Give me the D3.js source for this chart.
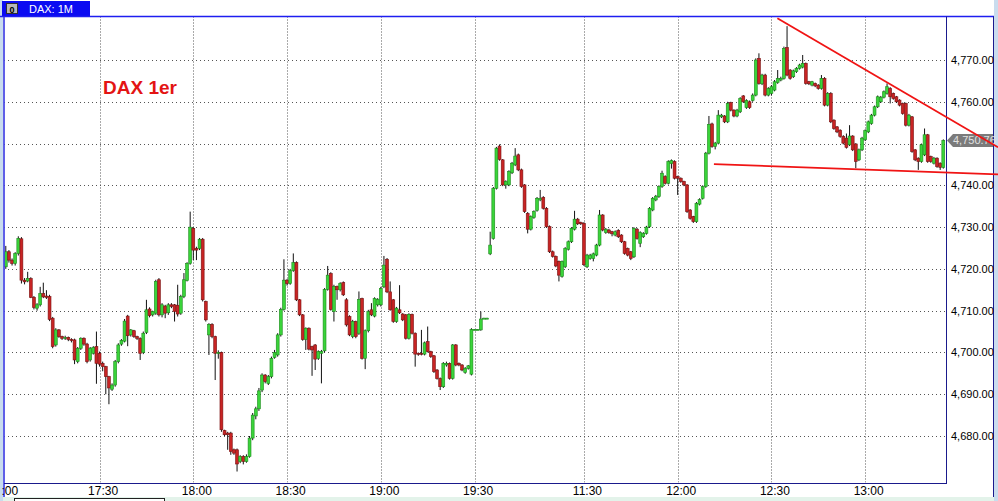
<!DOCTYPE html>
<html>
<head>
<meta charset="utf-8">
<script src="https://cdn.jsdelivr.net/npm/d3@7"></script>
<style>
  body { margin: 0; background: #fff; overflow: hidden; }
  svg { display: block; }
</style>
</head>
<body>
<div id="chart"></div>
<script>
// DAX 1 minute candles (index = minute bar)
const opens = [
  4720.5,4724.1,4722.1,4721.3,4723.7,4727.2,4717.3,4717.1,4717.7,4713.2,
  4710.6,4711.4,4714.1,4713.5,4713.4,4708.2,4701.8,4705.4,4703.8,4703.4,
  4703.6,4703.1,4703,4697.8,4701,4703.4,4702,4698.2,4699.8,4701.4,
  4699.8,4697.4,4696.6,4694.2,4691.2,4692.2,4697.8,4702,4702.7,4708.7,
  4704.2,4705.2,4703.8,4703.4,4700,4704.8,4710.4,4709,4709.4,4717.4,
  4709,4711.1,4709.5,4711.4,4711.4,4711.3,4709.4,4713.4,4717.2,4721.3,
  4729.7,4724.9,4724.9,4727.1,4712.2,4704.2,4706.7,4703.8,4699.8,4700,
  4681.3,4680.7,4680.7,4676.7,4676.7,4673.9,4675.1,4673.9,4675.1,4679.5,
  4684.8,4686.5,4691,4694.6,4692.6,4694.2,4698.8,4699.4,4704.2,4710.3,
  4717.3,4716.5,4719.6,4721.5,4712.6,4709,4703.1,4705.8,4701.4,4701.8,
  4698.6,4699.8,4700.4,4715.1,4718.9,4709.8,4715.8,4715,4716.7,4712.6,
  4708.6,4703.8,4707.4,4704.6,4712.9,4698.6,4705.2,4710.2,4708.7,4711.4,
  4711.4,4715.7,4722.3,4714.5,4712.6,4707.4,4710.2,4709.2,4709,4703.4,
  4709.1,4704.6,4699.8,4699.8,4699.6,4702.6,4700.2,4699.2,4695.8,4693.8,
  4691.8,4697,4697.4,4693.8,4701.8,4697.4,4697,4695.2,4696.2,4694.8,
  4705.5,4705.5,4705.4,4708.2,4708.2,4723.6,4727.3,4739.3,4749.4,4746.1,
  4740.1,4740.1,4743,4744.9,4747.3,4743.7,4740.1,4733.3,4729.5,4732.3,
  4734,4736.5,4737.1,4734.5,4730.1,4724.1,4723,4721.8,4718.2,4720.5,
  4724.7,4726.5,4729.5,4731.9,4731.1,4730.9,4720.5,4722.5,4722.5,4723.3,
  4725.7,4732.9,4728.7,4729.3,4728.9,4728.1,4729.2,4728.1,4726.5,4724.9,
  4724.1,4722.9,4729.5,4726.1,4727.7,4728.5,4730.1,4734.1,4736.5,4737.3,
  4739.7,4742.1,4740.5,4745.2,4745.7,4742.1,4741.7,4740.9,4740.1,4734.1,
  4732.5,4731.3,4735.5,4736.9,4739.7,4747.7,4754.7,4749.3,4750.1,4756.4,
  4756.6,4755.2,4759.8,4758,4756.6,4757.6,4761.4,4758.6,4760,4760.3,
  4761.6,4770.4,4764.3,4766.4,4761.6,4762,4762.8,4764.6,4765.2,4765.6,
  4773,4767.6,4766,4767.2,4768,4768.3,4769.2,4764.8,4764,4764.4,
  4764,4763.2,4765.6,4759.2,4762,4755.6,4754,4753.2,4751.7,4751.3,
  4749.7,4751.8,4749.9,4746.1,4748.5,4750.9,4752.8,4754.8,4756.8,4758.8,
  4760,4761.1,4762,4763.2,4762,4761.2,4760.4,4759.6,4759.6,4754.4,
  4756.4,4748.5,4746.5,4745.7,4747.3,4752.1,4746.9,4745.3,4746.5,4745.3,
  4744.3
];
const highs = [
  4725.5,4724.5,4722.5,4724,4727.8,4727.6,4717.8,4719.3,4718,4713.5,
  4711.8,4715.7,4716.7,4714.9,4713.8,4708.5,4705.8,4705.6,4704,4704,
  4703.8,4703.4,4703.3,4701.3,4703.6,4703.6,4702.3,4701.3,4701.5,4705,
  4700.2,4697.8,4696.8,4694.4,4692.6,4698.2,4702.2,4703.2,4708,4709,
  4705.6,4705.4,4704,4703.6,4705,4712.6,4710.8,4710,4717.4,4717.8,
  4711.8,4711.4,4711.8,4711.8,4711.6,4716.2,4713.8,4719,4721.6,4733.7,
  4730,4725.3,4727.4,4727.4,4712.4,4707,4707,4704,4700.5,4700.2,
  4681.5,4681,4681,4677,4677,4675.4,4675.4,4675.6,4680,4685.5,
  4687,4691.5,4695,4694.8,4694.6,4699,4700.6,4704.6,4710.7,4722.3,
  4717.6,4720,4723.7,4721.8,4712.8,4709.2,4706,4706,4701.6,4702,
  4700.5,4700.6,4715.4,4720.7,4719.2,4716.2,4716,4716.8,4717,4713,
  4708.9,4707.8,4707.6,4714.6,4713.1,4705.5,4710.2,4711.8,4713.2,4713,
  4715.7,4723.1,4722.6,4717,4712.8,4710.9,4716.1,4709.4,4709.2,4709.4,
  4709.3,4704.8,4700,4705.4,4702.6,4706.2,4700.4,4699.4,4696,4694,
  4697.7,4697.8,4697.6,4702,4702,4697.6,4697.2,4696.5,4697,4705.8,
  4705.6,4705.6,4709.8,4708.3,4708.3,4728.9,4739.6,4749.2,4749.8,4746.3,
  4741.2,4743.6,4745.6,4748.9,4747.6,4744,4740.3,4733.6,4732.8,4734,
  4737.2,4738.9,4737.4,4734.8,4730.4,4724.4,4723.2,4722,4722,4725.2,
  4726.8,4730,4733.9,4732.2,4731.3,4731.2,4723.6,4723.6,4723.9,4726,
  4734.1,4733.1,4729.8,4729.6,4729.1,4729.2,4729.5,4728.3,4726.7,4725.1,
  4724.3,4730,4729.8,4729,4728.8,4730.3,4734.8,4737.2,4737.7,4740,
  4743.5,4742.4,4746,4746.2,4746,4742.3,4741.9,4741.1,4740.3,4734.3,
  4732.7,4736,4736.9,4740,4748,4756.6,4755,4750.4,4758,4757.1,
  4756.8,4760,4760,4758.2,4758.3,4761.1,4761.6,4760.6,4760.3,4762,
  4770.4,4771.6,4766.7,4766.7,4763.5,4764,4765.2,4767.6,4766,4773.2,
  4778.1,4767.8,4767.7,4768.3,4769.1,4771.2,4769.4,4765,4765,4764.6,
  4764.2,4766.4,4765.9,4762.3,4762.3,4755.8,4754.2,4753.4,4752,4752.4,
  4754.4,4752,4750.1,4748.8,4751.6,4753.4,4755.5,4757.1,4759.1,4761.5,
  4761.4,4762.7,4764.4,4763.5,4762.2,4761.4,4760.6,4759.8,4759.8,4757.1,
  4756.6,4748.7,4746.7,4750,4753.6,4752.3,4747.1,4746.8,4746.7,4745.5,
  4751
];
const lows = [
  4720,4721.5,4720.8,4720.8,4723.2,4716.5,4716.3,4716.8,4713,4710.3,
  4710,4711,4713,4712.8,4707.5,4701,4701.4,4703.5,4703,4703,
  4702.7,4702.4,4697.2,4697.4,4700.6,4701.6,4697.4,4697.8,4699.5,4692.5,
  4696.6,4695.5,4690,4687.6,4690.8,4691.8,4697.4,4701.6,4702.4,4701.5,
  4703.8,4703.5,4703,4698.2,4699.6,4704.4,4708.4,4708.6,4709,4708.6,
  4708.4,4708.2,4709,4710.6,4707.4,4708.6,4709,4713,4717,4721,
  4722.1,4722.1,4724.5,4712.2,4707.4,4699.4,4703.4,4693.4,4698.5,4681,
  4680,4676.7,4675.5,4675.5,4671.5,4673.5,4673.2,4673.6,4674.8,4679,
  4684,4686,4690.5,4692.6,4692.2,4693.8,4698.5,4699,4703.8,4710,
  4716,4716.2,4719.3,4712.3,4708.7,4702.8,4700.6,4700.5,4694.4,4695.8,
  4698.2,4692.6,4700,4714.8,4710,4707.4,4712.6,4714.6,4713.5,4706.2,
  4703.9,4703.4,4703.4,4704.2,4698.3,4696,4704.8,4708.7,4708.4,4711,
  4711,4715.4,4714.2,4710,4707.1,4707.1,4709.2,4707.5,4703.1,4703.1,
  4704.3,4696.6,4699.2,4699.3,4699.3,4700,4698.7,4695.1,4693.5,4691,
  4691.5,4696.6,4693.5,4693.5,4696.7,4696.7,4695.5,4694.9,4695.9,4694.5,
  4705.4,4705.4,4705.2,4708.1,4708.1,4723.3,4727,4739,4745.9,4739.8,
  4739.2,4739.8,4742.7,4744.6,4743.4,4739.4,4733.4,4728.5,4729.2,4732,
  4733.7,4736.2,4734.2,4729.8,4723.8,4722.7,4720.4,4717,4717.9,4720.2,
  4724.4,4726.2,4729.2,4730.5,4730.5,4720.7,4720.2,4722.2,4721.8,4723,
  4725.4,4729,4728.4,4728.4,4727.8,4727.8,4727.4,4726.2,4723.4,4723,
  4722.1,4722.6,4727,4725.2,4727.4,4728.2,4729.8,4733.8,4736.2,4737,
  4739.4,4740.2,4740.2,4744,4741.4,4737.7,4740.6,4739.8,4733.4,4731.8,
  4731,4731,4735.2,4736.6,4739.4,4747.4,4749,4748.6,4749.8,4756.1,
  4754.9,4754.9,4757.7,4756.3,4756.3,4757.3,4759.7,4758.3,4758.3,4760,
  4761.3,4764.1,4764,4761.3,4761.3,4761.5,4762.5,4764.3,4764.9,4765.3,
  4766.1,4765.3,4765.7,4766.9,4767.7,4768,4764.1,4764,4763.7,4763.5,
  4762.9,4762.9,4758.9,4758.9,4754.9,4753.3,4752.5,4751.4,4749.8,4748.8,
  4749.4,4748.2,4744.1,4745.8,4748.2,4750.6,4752.5,4754.5,4756.5,4758.5,
  4759.7,4760.8,4761.7,4759.6,4760.5,4759.7,4758.9,4756.9,4754.1,4754.1,
  4747.8,4745.8,4743.7,4745.4,4747,4745.4,4745.4,4745,4744.2,4743.7,
  4744
];
const closes = [
  4724.1,4722.1,4721.3,4723.7,4727.3,4717.3,4716.9,4717.7,4713.2,4710.8,
  4711.4,4714.1,4713.3,4713.2,4707.9,4701.4,4705.4,4703.8,4703.4,4703.6,
  4703.1,4703,4698.2,4701,4703.4,4702,4697.8,4701,4701.2,4697.4,
  4697.2,4696.6,4694.2,4691.5,4692.2,4697.8,4701.8,4702.9,4707.5,4704,
  4705.4,4703.8,4703.4,4699.8,4704.6,4710.2,4708.8,4709.8,4717,4709,
  4711.4,4709.4,4711.4,4711,4709.8,4709.2,4713.4,4717.4,4721.3,4730,
  4724.5,4724.5,4727.1,4712.6,4707.8,4706.7,4703.8,4699.8,4700,4681.5,
  4680.3,4680.3,4676.3,4675.9,4673.3,4675.1,4673.9,4675.1,4679.5,4685,
  4686.5,4690.8,4694.6,4693,4694.2,4698.6,4700,4704.2,4710.3,4717.3,
  4716.5,4719.6,4721.5,4712.6,4709,4703.1,4705.8,4700.8,4700.6,4698.4,
  4700.2,4700.2,4715.1,4718.5,4710.3,4715.8,4715,4716.5,4713.8,4706.6,
  4704.2,4707.4,4703.8,4712.7,4698.6,4705.2,4709.8,4709,4712.9,4712.7,
  4715.3,4720.9,4714.5,4710.2,4707.4,4710.6,4709.5,4707.8,4703.4,4709.1,
  4704.6,4699.6,4699.6,4699.6,4702.3,4700.2,4699,4695.4,4693.8,4691.8,
  4697.4,4697.4,4693.8,4701.8,4697,4697,4695.8,4696.2,4696.8,4705.5,
  4705.5,4705.5,4708,4708.2,4708.2,4725.7,4739.3,4748.9,4746.2,4740.1,
  4740.9,4743.3,4745.3,4747,4743.7,4739.7,4733.7,4729.5,4732.5,4733.7,
  4736.9,4736.9,4734.5,4730.1,4724.1,4723,4720.7,4718.5,4721.8,4724.9,
  4726.5,4729.7,4731.9,4730.8,4730.8,4721,4723.3,4723.3,4723.6,4725.7,
  4732.9,4729.3,4729.5,4728.7,4728.4,4728.9,4727.7,4726.5,4723.7,4723.3,
  4722.5,4729.7,4727.3,4728.7,4728.5,4730,4734.5,4736.9,4737.4,4739.7,
  4742.9,4740.5,4745.7,4745.9,4741.7,4741.7,4740.9,4740.1,4733.7,4732.1,
  4731.3,4735.7,4736.6,4739.7,4747.7,4754.6,4749.3,4750.1,4756.8,4756.8,
  4755.2,4759.6,4758,4756.6,4758,4760.8,4760,4760.3,4758.6,4761.6,
  4770,4764.4,4766.4,4761.6,4763.2,4763.6,4764.8,4765.6,4765.6,4772.8,
  4766.4,4765.6,4767.4,4768,4768.8,4769.2,4764.4,4764.3,4764.8,4763.8,
  4763.2,4765.6,4759.2,4762,4755.2,4753.6,4752.8,4751.7,4750.1,4749.1,
  4751.8,4748.5,4745.7,4748.5,4751.3,4753.1,4755.2,4756.8,4758.8,4761.2,
  4761.1,4762.4,4763.6,4761.2,4760.8,4760,4759.2,4757.2,4754.4,4756.8,
  4748.1,4746.1,4745.7,4749.7,4752.1,4745.7,4745.7,4746.5,4744.5,4744.3,
  4750.76
];

// time axis: bar index of each labelled minute
const timeTicks = [-2, 30, 60, 90, 120, 150, 185, 215, 245, 275];
const timeLabels = ["17:00", "17:30", "18:00", "18:30", "19:00", "19:30", "11:30", "12:00", "12:30", "13:00"];
const priceTicks = [4680, 4690, 4700, 4710, 4720, 4730, 4740, 4750, 4760, 4770];
const lastPrice = 4750.76;

// hand drawn trend lines: [bar index, price]
const upperTrend = [[246.9, 4780], [317.5, 4749.1]];
const lowerTrend = [[226.6, 4745.1], [317.5, 4742.6]];

const W = 998, H = 501;
const plot = {left: 4, top: 16.5, right: 946, bottom: 483};

const candles = closes.map(function(c, i) {
  return {i: i, o: opens[i], h: highs[i], l: lows[i], c: c};
});

const svg = d3.select("#chart").append("svg")
  .attr("width", W)
  .attr("height", H)
  .style("font-family", "'Liberation Sans', Arial, sans-serif");

const x = d3.scaleLinear().domain([0, 300]).range([5.8, 943.3]);
const y = d3.scaleLinear().domain([4680, 4770]).range([436, 60]);

// background, side strips
svg.append("rect").attr("width", W).attr("height", H).attr("fill", "#ffffff");
svg.append("rect").attr("x", 0).attr("y", 0).attr("width", 3).attr("height", H).attr("fill", "#c9dcee");
svg.append("rect").attr("x", 994).attr("y", 0).attr("width", 4).attr("height", H).attr("fill", "#c9dcee");

// bottom panel strip
svg.append("rect").attr("x", 3).attr("y", 497).attr("width", 991).attr("height", 4).attr("fill", "#e3f3ea");
svg.append("rect").attr("x", 14.5).attr("y", 498.5).attr("width", 150).attr("height", 6)
  .attr("fill", "#ffffff").attr("stroke", "#222").attr("stroke-width", 1);

// header tab
svg.append("rect").attr("x", 2).attr("y", 1).attr("width", 88).attr("height", 15).attr("fill", "#0b0bf2");
svg.append("rect").attr("x", 6.5).attr("y", 3.5).attr("width", 11).attr("height", 10)
  .attr("fill", "#b8b8b8").attr("stroke", "#303030").attr("stroke-width", 1);
svg.append("text").attr("x", 12).attr("y", 12.5).attr("text-anchor", "middle")
  .attr("font-size", 9).attr("font-weight", "bold").attr("fill", "#000").text("0");
svg.append("text").attr("x", 29).attr("y", 12.5)
  .attr("font-size", 11).attr("fill", "#ffffff").text("DAX: 1M");

// clip for the plot area
svg.append("clipPath").attr("id", "plotClip")
  .append("rect")
  .attr("x", plot.left + 0.5).attr("y", plot.top + 0.5)
  .attr("width", plot.right - plot.left - 1).attr("height", plot.bottom - plot.top - 1);

const g = svg.append("g").attr("clip-path", "url(#plotClip)");

// grid
g.selectAll(".hgrid")
  .data(priceTicks)
  .enter().append("line")
  .attr("class", "hgrid")
  .attr("x1", plot.left).attr("x2", plot.right)
  .attr("y1", function(d) { return Math.round(y(d)) + 0.5; })
  .attr("y2", function(d) { return Math.round(y(d)) + 0.5; })
  .attr("stroke", "#555")
  .attr("stroke-width", 1)
  .attr("stroke-dasharray", "1,3");

g.selectAll(".vgrid")
  .data(timeTicks)
  .enter().append("line")
  .attr("class", "vgrid")
  .attr("x1", function(d) { return Math.round(x(d)) + 0.5; })
  .attr("x2", function(d) { return Math.round(x(d)) + 0.5; })
  .attr("y1", plot.top).attr("y2", plot.bottom)
  .attr("stroke", "#555")
  .attr("stroke-width", 1)
  .attr("stroke-dasharray", "1,2");

// candles: wick then body
const bodyW = 2.9;
const bar = g.selectAll(".candle")
  .data(candles)
  .enter().append("g")
  .attr("class", "candle");

bar.append("line")
  .attr("x1", function(d) { return x(d.i); })
  .attr("x2", function(d) { return x(d.i); })
  .attr("y1", function(d) { return y(d.h); })
  .attr("y2", function(d) { return y(d.l); })
  .attr("stroke", "#111")
  .attr("stroke-width", 1);

bar.append("rect")
  .attr("x", function(d) { return x(d.i) - bodyW / 2; })
  .attr("y", function(d) { return y(Math.max(d.o, d.c)); })
  .attr("width", bodyW)
  .attr("height", function(d) { return Math.max(1, Math.abs(y(d.o) - y(d.c))); })
  .attr("fill", function(d) { return d.c >= d.o ? "#3ad43a" : "#c82424"; })
  .attr("stroke", function(d) { return d.c >= d.o ? "#1c8a1c" : "#781212"; })
  .attr("stroke-width", 0.6);

// DAX label
svg.append("text")
  .attr("x", 103).attr("y", 94)
  .attr("font-size", 19).attr("font-weight", "bold")
  .attr("fill", "#e31414")
  .text("DAX 1er");

// frame
svg.append("line").attr("x1", 0).attr("x2", 994).attr("y1", plot.top).attr("y2", plot.top)
  .attr("stroke", "#1e1ef0").attr("stroke-width", 1.5);
svg.append("line").attr("x1", plot.left).attr("x2", plot.left).attr("y1", plot.top).attr("y2", 497)
  .attr("stroke", "#2a2ae0").attr("stroke-width", 1.5);
svg.append("line").attr("x1", plot.left).attr("x2", plot.right).attr("y1", plot.bottom + 0.5).attr("y2", plot.bottom + 0.5)
  .attr("stroke", "#1a1a8c").attr("stroke-width", 1);
svg.append("line").attr("x1", plot.right + 0.5).attr("x2", plot.right + 0.5).attr("y1", plot.top).attr("y2", plot.bottom + 1)
  .attr("stroke", "#1a1a8c").attr("stroke-width", 1);
svg.append("line").attr("x1", 993.5).attr("x2", 993.5).attr("y1", plot.top).attr("y2", 497)
  .attr("stroke", "#1a1a8c").attr("stroke-width", 1);

// price axis on the right; the label under the last-price tag is covered in the reference
const axisTicks = priceTicks.filter(function(d) { return Math.abs(y(d) - y(lastPrice)) >= 8; });
const yAxis = svg.append("g")
  .attr("transform", "translate(" + plot.right + ",0)")
  .call(d3.axisRight(y).tickValues(axisTicks).tickFormat(d3.format(",.2f")).tickSize(0).tickPadding(5));
yAxis.select(".domain").remove();
yAxis.selectAll("text")
  .attr("font-family", "'Liberation Sans', Arial, sans-serif")
  .attr("font-size", 11)
  .attr("fill", "#000");

// time axis (clip rect is in the axis group's own coordinates)
svg.append("clipPath").attr("id", "axisClip")
  .append("rect").attr("x", 2).attr("y", 0).attr("width", 944).attr("height", 14);

const xAxis = svg.append("g")
  .attr("clip-path", "url(#axisClip)")
  .attr("transform", "translate(0," + plot.bottom + ")")
  .call(d3.axisBottom(x).tickValues(timeTicks).tickFormat(function(d, i) { return timeLabels[i]; })
    .tickSize(0).tickPadding(3));
xAxis.select(".domain").remove();
xAxis.selectAll("text")
  .attr("dx", 3)
  .attr("font-family", "'Liberation Sans Narrow', 'Liberation Sans', Arial, sans-serif")
  .attr("font-size", 12)
  .attr("fill", "#000");

// trend lines (drawn over everything, they run into the axis)
const trendLine = d3.line()
  .x(function(d) { return x(d[0]); })
  .y(function(d) { return y(d[1]); });

svg.selectAll(".trend")
  .data([lowerTrend])
  .enter().append("path")
  .attr("class", "trend")
  .attr("d", trendLine)
  .attr("fill", "none")
  .attr("stroke", "#f01414")
  .attr("stroke-width", 1.8);

// last price tag
const ty = y(lastPrice);
const tag = svg.append("g");
tag.append("path")
  .attr("d", "M947," + ty + " L953," + (ty - 6.5) + " L993," + (ty - 6.5) + " L993," + (ty + 6.5) + " L953," + (ty + 6.5) + " Z")
  .attr("fill", "#7b7b7b");
tag.append("text")
  .attr("x", 953).attr("y", ty + 4)
  .attr("font-size", 11)
  .attr("fill", "#e2e2e2")
  .text(d3.format(",.2f")(lastPrice));

// upper trend line goes over the tag like in the reference
svg.append("path")
  .datum(upperTrend)
  .attr("class", "trend")
  .attr("d", trendLine)
  .attr("fill", "none")
  .attr("stroke", "#f01414")
  .attr("stroke-width", 1.8);
</script>
</body>
</html>
